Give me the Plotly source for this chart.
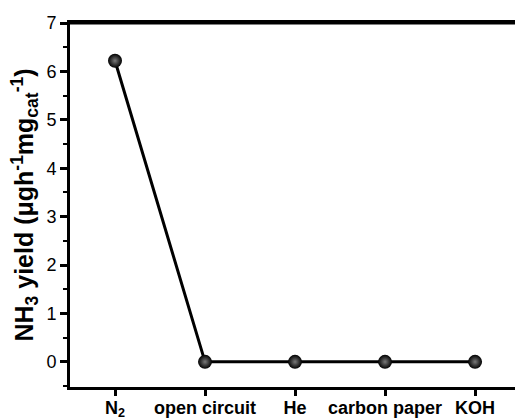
import plotly.graph_objects as go

categories = ["N<sub>2</sub>", "open circuit", "He", "carbon paper", "KOH"]
yields = [6.22, 0.0, 0.0, 0.0, 0.0]
y_ticks = [0, 1, 2, 3, 4, 5, 6, 7]

xpos = list(range(len(categories)))

fig = go.Figure()
fig.add_trace(go.Scatter(
    x=xpos, y=yields, mode="lines+markers",
    line=dict(color="black", width=3),
    marker=dict(size=14, color="#000000",
                gradient=dict(type="radial", color="#7a7a7a"),
                line=dict(width=0)),
    showlegend=False,
))

font_family = "Liberation Sans, Arial, sans-serif"
fig.update_layout(
    width=515, height=419,
    margin=dict(l=70, r=0, t=23, b=32, autoexpand=False),
    plot_bgcolor="white", paper_bgcolor="white",
    font=dict(family=font_family, color="black"),
    xaxis=dict(
        range=[-0.5, 4.444], tickmode="array", tickvals=xpos,
        ticktext=["<b>" + c + "</b>" for c in categories],
        showgrid=False, zeroline=False, automargin=False,
        showline=True, linecolor="black", linewidth=3, mirror=True,
        ticks="outside", ticklen=6, tickwidth=2.5, tickcolor="black",
        tickfont=dict(size=18, family=font_family),
        ticklabelstandoff=-4,
    ),
    yaxis=dict(
        range=[-0.52, 7], tickvals=y_ticks,
        showgrid=False, zeroline=False, automargin=False,
        showline=True, linecolor="black", linewidth=3, mirror=False,
        ticks="outside", ticklen=7, tickwidth=2.5, tickcolor="black",
        tickfont=dict(size=18, family=font_family),
        minor=dict(dtick=0.5, ticks="outside", ticklen=4, tickwidth=2, tickcolor="black"),
        title=dict(text="<b>NH<sub>3</sub> yield (μgh<sup>-1</sup>mg<sub>cat</sub><sup>-1</sup>)</b>",
                   font=dict(size=25, family=font_family), standoff=6),
    ),
    shapes=[dict(type="line", xref="paper", yref="paper", x0=0, x1=1, y0=1, y1=1,
                 line=dict(color="black", width=3))],
)

fig.write_html("out.html", config={"displayModeBar": False},
               post_script="document.body.style.margin='0';document.body.style.overflow='hidden';")
